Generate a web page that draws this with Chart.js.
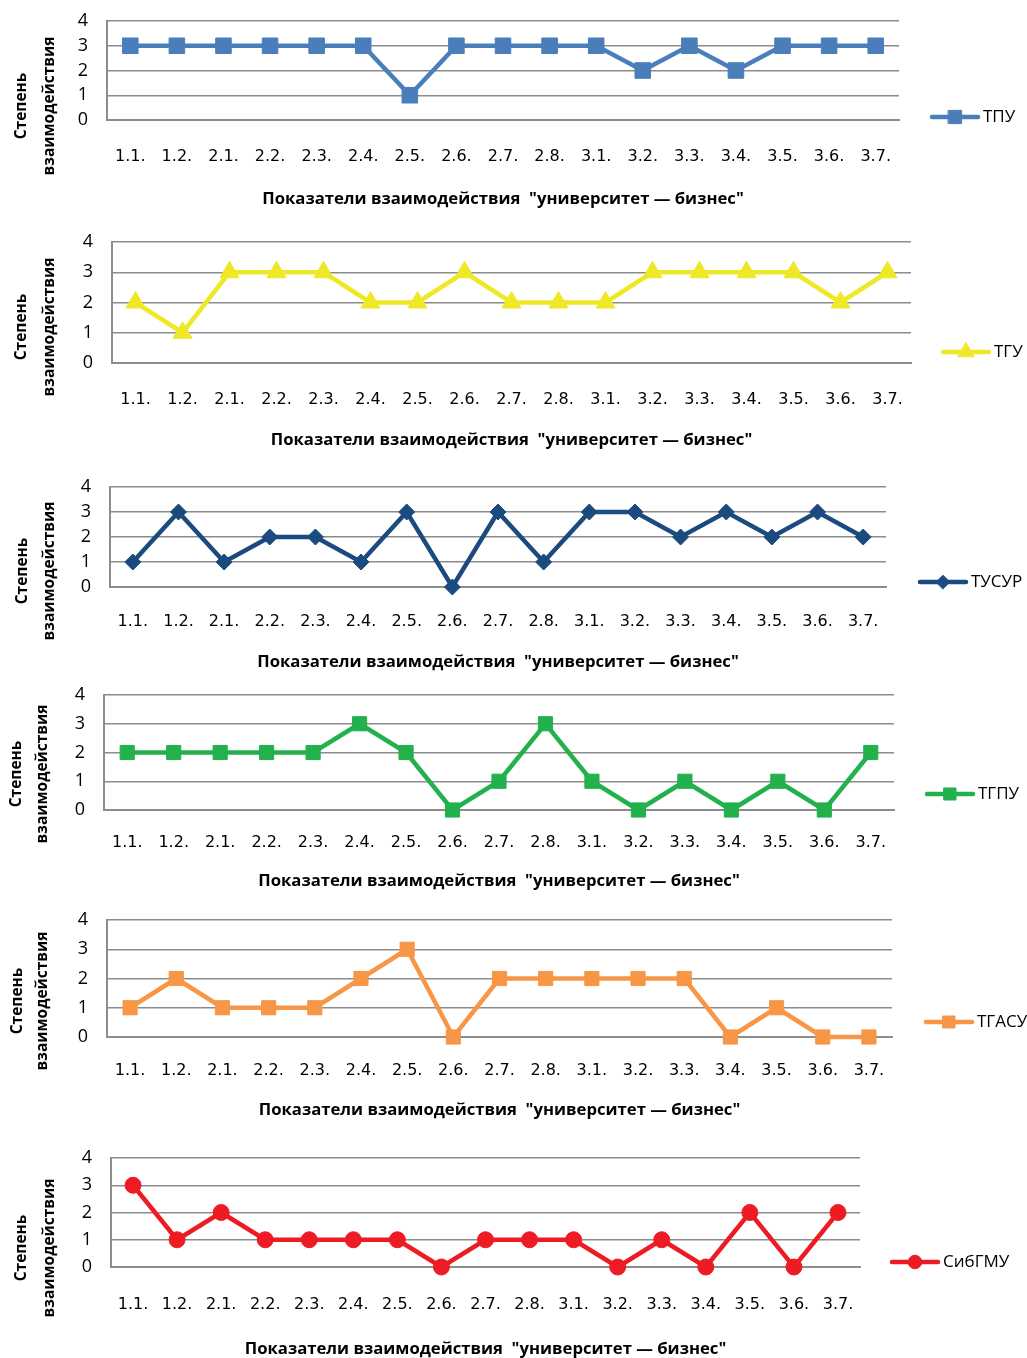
<!DOCTYPE html>
<html lang="ru">
<head>
<meta charset="utf-8">
<script src="https://cdn.jsdelivr.net/npm/chart.js@4.4.1/dist/chart.umd.min.js"></script>
<style>
  html, body { margin: 0; padding: 0; background: #fff; }
  body { width: 1027px; height: 1358px; position: relative; overflow: hidden; }
  canvas { position: absolute; left: 0; }
</style>
</head>
<body>
<script>
// categories (indicators)
const indicators = ["1.1.", "1.2.", "2.1.", "2.2.", "2.3.", "2.4.", "2.5.", "2.6.", "2.7.",
  "2.8.", "3.1.", "3.2.", "3.3.", "3.4.", "3.5.", "3.6.", "3.7."];

// series values
const tpu    = [3, 3, 3, 3, 3, 3, 1, 3, 3, 3, 3, 2, 3, 2, 3, 3, 3];
const tgu    = [2, 1, 3, 3, 3, 2, 2, 3, 2, 2, 2, 3, 3, 3, 3, 2, 3];
const tusur  = [1, 3, 1, 2, 2, 1, 3, 0, 3, 1, 3, 3, 2, 3, 2, 3, 2];
const tgpu   = [2, 2, 2, 2, 2, 3, 2, 0, 1, 3, 1, 0, 1, 0, 1, 0, 2];
const tgasu  = [1, 2, 1, 1, 1, 2, 3, 0, 2, 2, 2, 2, 2, 0, 1, 0, 0];
const sibgmu = [3, 1, 2, 1, 1, 1, 1, 0, 1, 1, 1, 0, 1, 0, 2, 0, 2];

const seriesNames = ["ТПУ", "ТГУ", "ТУСУР", "ТГПУ", "ТГАСУ", "СибГМУ"];
const seriesValues = [tpu, tgu, tusur, tgpu, tgasu, sibgmu];

const xTitle = 'Показатели взаимодействия  "университет — бизнес"';
const yTitle = ["Степень", "взаимодействия"];

// look of each panel (colours, markers, where it sits on the page)
const panels = [
  { color: "#4a7ebb", marker: "rect",     radius: 11, line: 4.5, left: 107, right: 899, top: 21,  bottom: 120,  tick: 157,  title: 199,  legX: 932, legY: 117,  ytX: [22, 50], ytY: 106 },
  { color: "#eee827", marker: "triangle", radius: 11, line: 4.5, left: 112, right: 911, top: 242, bottom: 363,  tick: 400,  title: 440,  legX: 943, legY: 352,  ytX: [22, 50], ytY: 327 },
  { color: "#1a4a7e", marker: "rectRot",  radius: 8,  line: 4.5, left: 110, right: 886, top: 487, bottom: 587,  tick: 622,  title: 662,  legX: 920, legY: 582,  ytX: [23, 50], ytY: 571 },
  { color: "#22b14c", marker: "rect",     radius: 10, line: 4.5, left: 104, right: 894, top: 695, bottom: 810,  tick: 843,  title: 881,  legX: 927, legY: 794,  ytX: [17, 43], ytY: 774 },
  { color: "#f79646", marker: "rect",     radius: 10, line: 4.5, left: 107, right: 892, top: 920, bottom: 1037, tick: 1071, title: 1110, legX: 926, legY: 1022, ytX: [18, 43], ytY: 1001 },
  { color: "#ed1c24", marker: "circle",   radius: 8,  line: 4.5, left: 111, right: 860, top: 1158, bottom: 1267, tick: 1305, title: 1349, legX: 892, legY: 1262, ytX: [22, 50], ytY: 1248 },
];

const GRID = "#8c8c8c";
const LEG_W = 46;

// y title (two rotated lines) and the legend on the right
const decorPlugin = {
  id: "decor",
  afterDraw(chart, args, opts) {
    const ctx = chart.ctx;
    const p = opts.panel;
    const off = opts.offset;
    ctx.save();
    ctx.fillStyle = "#000";
    ctx.font = "bold 15.5px 'Open Sans'";
    ctx.textAlign = "center";
    ctx.textBaseline = "middle";
    yTitle.forEach((t, i) => {
      ctx.save();
      ctx.translate(p.ytX[i], p.ytY - off);
      ctx.rotate(-Math.PI / 2);
      ctx.fillText(t, 0, 0);
      ctx.restore();
    });

    const ds = chart.data.datasets[0];
    const ly = p.legY - off;
    ctx.strokeStyle = ds.borderColor;
    ctx.lineWidth = ds.borderWidth;
    ctx.lineCap = "round";
    ctx.beginPath();
    ctx.moveTo(p.legX, ly);
    ctx.lineTo(p.legX + LEG_W, ly);
    ctx.stroke();
    ctx.fillStyle = ds.pointBackgroundColor;
    ctx.strokeStyle = ds.pointBorderColor;
    ctx.lineWidth = ds.pointBorderWidth;
    Chart.helpers.drawPoint(ctx, {
      pointStyle: ds.pointStyle, radius: ds.pointRadius * 0.85,
      borderWidth: ds.pointBorderWidth, rotation: 0,
    }, p.legX + LEG_W / 2, ly);

    ctx.fillStyle = "#000";
    ctx.font = "17px 'Open Sans'";
    ctx.textAlign = "left";
    ctx.fillText(ds.label, p.legX + LEG_W + 5, ly);
    ctx.restore();
  },
};

function buildPanel(p, idx) {
  const top = p.top - 14;
  const bottom = Math.min(p.title + 14, 1358);
  const H = bottom - top;

  const canvas = document.createElement("canvas");
  canvas.width = 1027;
  canvas.height = H;
  canvas.style.top = top + "px";
  document.body.appendChild(canvas);

  new Chart(canvas.getContext("2d"), {
    type: "line",
    data: {
      labels: indicators,
      datasets: [
        {
          label: seriesNames[idx],
          data: seriesValues[idx],
          borderColor: p.color,
          backgroundColor: p.color,
          borderWidth: p.line,
          tension: 0,
          pointStyle: p.marker,
          pointRadius: p.radius,
          pointBackgroundColor: p.color,
          pointBorderColor: p.color,
          pointBorderWidth: 1,
          clip: false,
        },
      ],
    },
    options: {
      responsive: false,
      animation: false,
      devicePixelRatio: 1,
      layout: { padding: { top: 14, right: 1027 - p.right, left: 0, bottom: 0 } },
      plugins: {
        legend: { display: false },
        tooltip: { enabled: false },
        decor: { panel: p, offset: top },
      },
      scales: {
        x: {
          type: "category",
          offset: true,
          grid: { display: false, drawTicks: false },
          border: { display: true, color: GRID, width: 2 },
          ticks: {
            color: "#000",
            font: { family: "'DejaVu Sans'", size: 16 },
            padding: p.tick - p.bottom - 9.6,
            maxRotation: 0,
            autoSkip: false,
          },
          title: {
            display: true,
            text: xTitle,
            color: "#000",
            font: { family: "'Open Sans'", size: 16.7, weight: "bold" },
            padding: { top: 0, bottom: bottom - p.title - 10 },
          },
          afterFit(scale) {
            scale.height = bottom - p.bottom;
          },
        },
        y: {
          min: 0,
          max: 4,
          ticks: {
            stepSize: 1,
            autoSkip: false,
            color: "#000",
            font: { family: "'Open Sans'", size: 18, lineHeight: 1 },
            padding: 19,
          },
          grid: { color: GRID, lineWidth: 1.5, drawTicks: false },
          border: { display: true, color: GRID, width: 2 },
          afterFit(scale) {
            scale.width = p.left;
            scale.paddingTop = 0;
            scale.paddingBottom = 0;
          },
        },
      },
    },
    plugins: [decorPlugin],
  });
}

panels.forEach((p, i) => buildPanel(p, i));
</script>
</body>
</html>
